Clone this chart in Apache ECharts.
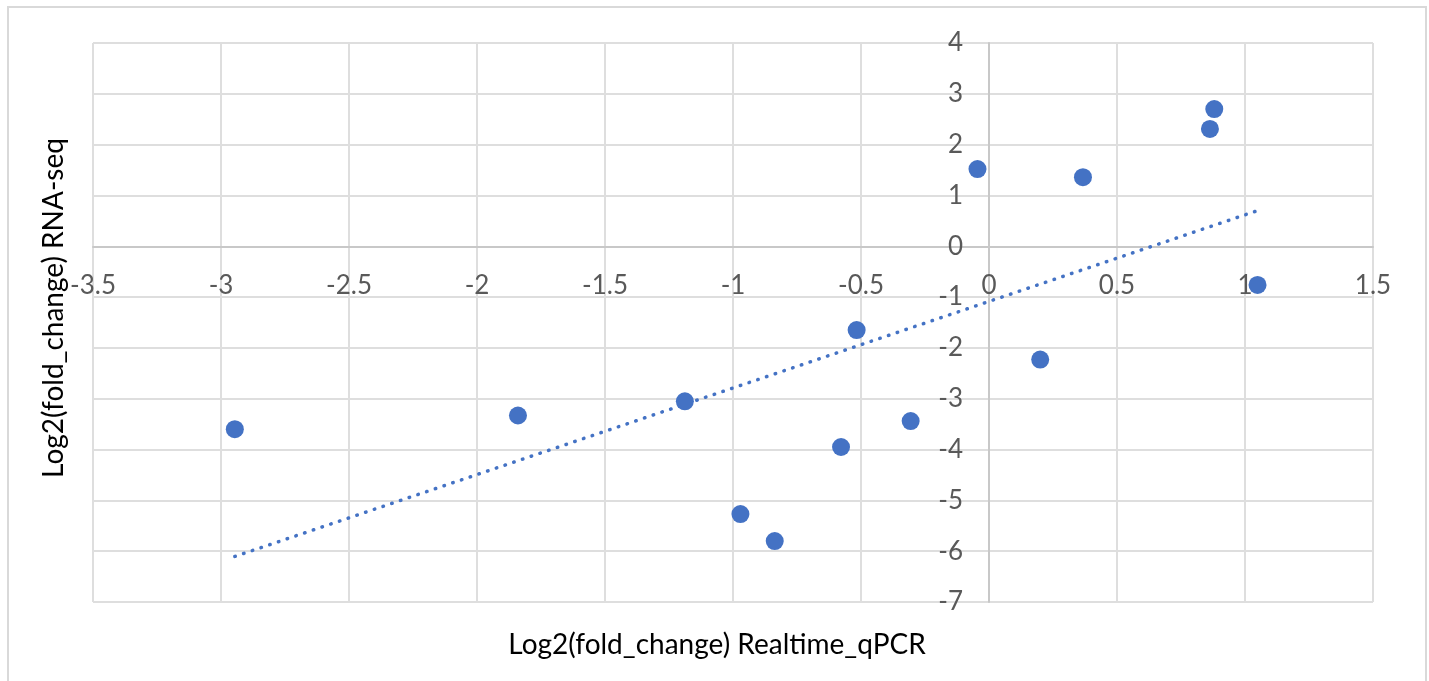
<!DOCTYPE html>
<html>
<head>
<meta charset="utf-8">
<script src="https://cdn.jsdelivr.net/npm/echarts@6/dist/echarts.min.js"></script>
<style>
html,body{margin:0;padding:0;background:#fff;}
#chart{width:1429px;height:681px;}
</style>
</head>
<body>
<div id="chart"></div>
<script>
// Data
const qpcr   = [-2.946, -1.840, -1.188, -0.971, -0.837, -0.578, -0.517, -0.306, -0.045, 0.200, 0.367, 0.863, 0.880, 1.049];
const rnaseq = [-3.60, -3.33, -3.05, -5.27, -5.80, -3.95, -1.65, -3.44, 1.52, -2.23, 1.36, 2.31, 2.70, -0.76];
const xTitle = 'Log2(fold_change) Realtime_qPCR';
const yTitle = 'Log2(fold_change) RNA-seq';

const points = qpcr.map((x, i) => [x, rnaseq[i]]);
// linear trendline (least squares) derived from the data
const n = qpcr.length;
const mx = qpcr.reduce((a, b) => a + b, 0) / n;
const my = rnaseq.reduce((a, b) => a + b, 0) / n;
let sxy = 0, sxx = 0;
for (let i = 0; i < n; i++) { sxy += (qpcr[i] - mx) * (rnaseq[i] - my); sxx += (qpcr[i] - mx) ** 2; }
const slope = sxy / sxx, icpt = my - slope * mx;
const xmin = Math.min(...qpcr), xmax = Math.max(...qpcr);
const trend = [[xmin, icpt + slope * xmin], [xmax, icpt + slope * xmax]];

const X_MIN = -3.5, X_MAX = 1.5, Y_MIN = -7, Y_MAX = 4;
const G = {left: 93, top: 43, width: 1280, height: 559};
// place axes so they cross at zero
const xAxisOffset = -(G.height * (0 - Y_MIN) / (Y_MAX - Y_MIN));
const yAxisOffset = -(G.width * (0 - X_MIN) / (X_MAX - X_MIN));

const FONT = 'Lato';
const chart = echarts.init(document.getElementById('chart'), null, {renderer: 'canvas'});
chart.setOption({
  backgroundColor: '#ffffff',
  animation: false,
  grid: Object.assign({containLabel: false}, G),
  xAxis: {
    type: 'value', min: X_MIN, max: X_MAX, interval: 0.5,
    position: 'bottom', offset: xAxisOffset,
    axisLine: {show: true, onZero: false, lineStyle: {color: '#c8c8c8', width: 2}},
    axisTick: {show: false},
    axisLabel: {color: '#595959', fontFamily: FONT, fontSize: 26, margin: 26, showMinLabel: true, showMaxLabel: true},
    splitLine: {show: true, lineStyle: {color: '#dedede', width: 2}}
  },
  yAxis: {
    type: 'value', min: Y_MIN, max: Y_MAX, interval: 1,
    position: 'left', offset: yAxisOffset,
    axisLine: {show: true, onZero: false, lineStyle: {color: '#c8c8c8', width: 2}},
    axisTick: {show: false},
    axisLabel: {color: '#595959', fontFamily: FONT, fontSize: 26, margin: 26, showMinLabel: true, showMaxLabel: true},
    splitLine: {show: true, lineStyle: {color: '#dedede', width: 2}}
  },
  series: [
    {
      type: 'line', data: trend, showSymbol: false, symbol: 'none', z: 3,
      lineStyle: {color: '#4472C4', width: 3.5, type: [0.5, 8.7], cap: 'round'}
    },
    {
      type: 'scatter', data: points, symbol: 'circle', symbolSize: 18, z: 4,
      itemStyle: {color: '#4472C4', opacity: 1}
    }
  ],
  graphic: [
    {type: 'rect', shape: {x: 8, y: 7, width: 1418, height: 690}, style: {fill: 'none', stroke: '#d9d9d9', lineWidth: 2}, z: -1},
    {type: 'text', x: 717, y: 645, style: {text: xTitle, font: '28px Lato', fill: '#000', textAlign: 'center', textVerticalAlign: 'middle'}},
    {type: 'text', x: 54, y: 308, rotation: Math.PI / 2, style: {text: yTitle, font: '28px Lato', fill: '#000', textAlign: 'center', textVerticalAlign: 'middle'}}
  ]
});
</script>
</body>
</html>
